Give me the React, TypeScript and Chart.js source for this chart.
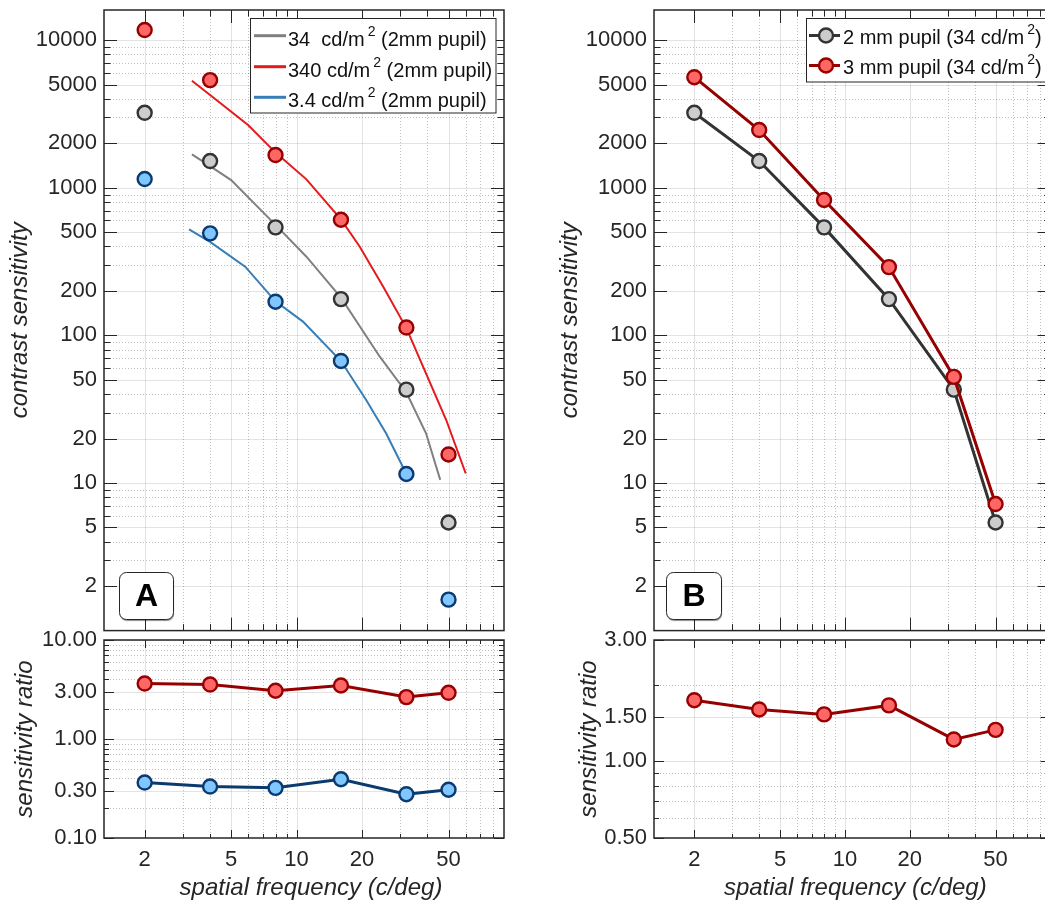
import React, { useEffect, useRef } from 'react';
import { Chart, registerables } from 'chart.js';

Chart.register(...registerables);
Chart.defaults.font.family = "'Liberation Sans', Arial, Helvetica, sans-serif";

// ---------------- data ----------------
const FREQ = [2, 4, 8, 16, 32, 50];
const CS_34 = [3220, 1517, 539, 176, 42.9, 5.4];
const CS_340 = [11700, 5360, 1665, 607, 113, 15.6];
const CS_3_4 = [1145, 491, 169, 67.1, 11.5, 1.62];
const CS_3MM = [5610, 2460, 826, 290, 52.3, 7.2];
const RATIO_340 = [3.63, 3.55, 3.07, 3.47, 2.65, 2.93];
const RATIO_3_4 = [0.363, 0.331, 0.321, 0.392, 0.277, 0.307];
const RATIO_PUPIL = [1.74, 1.6, 1.53, 1.66, 1.22, 1.33];

const FIT_34_F = [3.3, 4, 5, 8, 11.1, 16, 24.1, 32, 39.4, 45.8];
const FIT_34_CS = [1683, 1400, 1127, 560, 341, 180, 72, 41, 21.7, 10.5];
const FIT_340_F = [3.3, 4, 6, 8, 11.1, 16, 19.5, 25, 32, 48.8, 60];
const FIT_340_CS = [5300, 4250, 2650, 1730, 1140, 610, 400, 214, 112, 26.7, 11.6];
const FIT_3_4_F = [3.2, 4, 5.8, 8, 10.7, 16, 20.9, 25.8, 32];
const FIT_3_4_CS = [522, 430, 292, 170, 124, 67, 36.5, 21.7, 11.5];

const X_MAJOR = [2, 5, 10, 20, 50];
const X_MINOR = [3, 4, 6, 7, 8, 9, 30, 40, 60, 70, 80];
const CS_MAJOR = [2, 5, 10, 20, 50, 100, 200, 500, 1000, 2000, 5000, 10000];
const CS_MINOR = [3, 4, 6, 7, 8, 9, 30, 40, 60, 70, 80, 90, 300, 400, 600, 700, 800, 900, 3000, 4000, 6000, 7000, 8000, 9000];
const RA_MAJOR = [0.1, 0.3, 1, 3, 10];
const RA_MINOR = [0.2, 0.4, 0.5, 0.6, 0.7, 0.8, 0.9, 2, 4, 5, 6, 7, 8, 9];
const RB_MAJOR = [0.5, 1, 1.5, 3];
const RB_MINOR = [0.6, 0.7, 0.8, 0.9, 2];

const LEGEND_A = [
  { text: '34  cd/m', sup: '2', tail: ' (2mm pupil)' },
  { text: '340 cd/m', sup: '2', tail: ' (2mm pupil)' },
  { text: '3.4 cd/m', sup: '2', tail: ' (2mm pupil)' },
];
const LEGEND_B = [
  { text: '2 mm pupil (34 cd/m', sup: '2', tail: ')' },
  { text: '3 mm pupil (34 cd/m', sup: '2', tail: ')' },
];
const X_TITLE = 'spatial frequency (c/deg)';
const Y_TITLE_CS = 'contrast sensitivity';
const Y_TITLE_RATIO = 'sensitivity ratio';

// ---------------- styles ----------------
const INK = '#262626';
const RED_FILL = '#ff6666';
const RED_EDGE = '#960000';
const GRAY_FILL = '#cccccc';
const GRAY_EDGE = '#333333';
const BLUE_FILL = '#80c6ff';
const BLUE_EDGE = '#0b3a6f';
const FIT_GRAY = '#808080';
const FIT_RED = '#e41a1c';
const FIT_BLUE = '#377eb8';
const TICK_FONT = 22;
const TITLE_FONT = 24;

const pts = (xs: number[], ys: number[]) => xs.map((x, i) => ({ x, y: ys[i] }));

function markers(label: string, ys: number[], fill: string, edge: string, line: string | null, lw = 3) {
  return {
    label,
    data: pts(FREQ, ys),
    showLine: !!line,
    borderColor: line || edge,
    borderWidth: lw,
    pointRadius: 7,
    pointBorderWidth: 2.4,
    pointBackgroundColor: fill,
    pointBorderColor: edge,
    tension: 0,
  };
}

function fit(label: string, xs: number[], ys: number[], color: string) {
  return {
    label,
    data: pts(xs, ys),
    showLine: true,
    borderColor: color,
    borderWidth: 2,
    pointRadius: 0,
    tension: 0,
  };
}

type Row = { text: string; sup: string; tail: string; y: number; color: string; fill?: string };
type Decor = {
  xMajor: number[]; xMinor: number[]; yMajor: number[]; yMinor: number[];
  xTick: [number, number]; yTick: [number, number];
  xTitle?: { text: string; dx: number; y: number };
  legend?: { box: [number, number, number, number]; rows: Row[]; lineX: [number, number]; markerX?: number; textX: number; baseOff: number };
  label?: { text: string; box: [number, number, number, number] };
};

function decorPlugin(d: Decor) {
  return {
    id: 'decor',
    beforeDatasetsDraw(chart: any) {
      const { ctx, chartArea: a, scales } = chart;
      const xs = scales.x, ys = scales.y;
      ctx.save();
      ctx.beginPath();
      ctx.rect(a.left, a.top, a.right - a.left, a.bottom - a.top);
      ctx.clip();
      ctx.lineWidth = 1;
      ctx.strokeStyle = 'rgba(0,0,0,0.25)';
      ctx.setLineDash([1, 2]);
      ctx.beginPath();
      for (const v of d.xMinor) { const p = Math.round(xs.getPixelForValue(v)) + 0.5; ctx.moveTo(p, a.top); ctx.lineTo(p, a.bottom); }
      for (const v of d.yMinor) { const p = Math.round(ys.getPixelForValue(v)) + 0.5; ctx.moveTo(a.left, p); ctx.lineTo(a.right, p); }
      ctx.stroke();
      ctx.setLineDash([]);
      ctx.strokeStyle = 'rgba(0,0,0,0.11)';
      ctx.beginPath();
      for (const v of d.xMajor) { const p = Math.round(xs.getPixelForValue(v)) + 0.5; ctx.moveTo(p, a.top); ctx.lineTo(p, a.bottom); }
      for (const v of d.yMajor) { const p = Math.round(ys.getPixelForValue(v)) + 0.5; ctx.moveTo(a.left, p); ctx.lineTo(a.right, p); }
      ctx.stroke();
      ctx.restore();
    },
    afterDraw(chart: any) {
      const { ctx, chartArea: a, scales } = chart;
      const xs = scales.x, ys = scales.y;
      ctx.save();
      // ticks
      ctx.strokeStyle = INK;
      ctx.lineWidth = 1;
      ctx.beginPath();
      const xt = (vals: number[], len: number) => {
        for (const v of vals) {
          const p = Math.round(xs.getPixelForValue(v)) + 0.5;
          ctx.moveTo(p, a.bottom); ctx.lineTo(p, a.bottom - len);
          ctx.moveTo(p, a.top); ctx.lineTo(p, a.top + len);
        }
      };
      const yt = (vals: number[], len: number) => {
        for (const v of vals) {
          const p = Math.round(ys.getPixelForValue(v)) + 0.5;
          ctx.moveTo(a.left, p); ctx.lineTo(a.left + len, p);
          ctx.moveTo(a.right, p); ctx.lineTo(a.right - len, p);
        }
      };
      xt(d.xMajor, d.xTick[0]); xt(d.xMinor, d.xTick[1]);
      yt(d.yMajor, d.yTick[0]); yt(d.yMinor, d.yTick[1]);
      ctx.stroke();
      // frame
      ctx.lineWidth = 1.5;
      ctx.strokeRect(a.left, a.top, a.right - a.left, a.bottom - a.top);

      // x title
      if (d.xTitle) {
        ctx.fillStyle = INK;
        ctx.font = `italic ${TITLE_FONT}px 'Liberation Sans', Arial, sans-serif`;
        ctx.textAlign = 'center';
        ctx.textBaseline = 'middle';
        ctx.fillText(d.xTitle.text, (a.left + a.right) / 2 + d.xTitle.dx, d.xTitle.y);
      }

      // legend
      if (d.legend) {
        const L = d.legend;
        const [bx, by, bw, bh] = L.box;
        ctx.fillStyle = '#ffffff';
        ctx.fillRect(bx, by, bw, bh);
        ctx.strokeStyle = INK;
        ctx.lineWidth = 1;
        ctx.strokeRect(bx, by, bw, bh);
        for (const r of L.rows) {
          ctx.strokeStyle = r.color;
          ctx.lineWidth = 3;
          ctx.beginPath();
          ctx.moveTo(L.lineX[0], r.y);
          ctx.lineTo(L.lineX[1], r.y);
          ctx.stroke();
          if (L.markerX !== undefined && r.fill) {
            ctx.beginPath();
            ctx.arc(L.markerX, r.y, 7, 0, Math.PI * 2);
            ctx.fillStyle = r.fill;
            ctx.fill();
            ctx.lineWidth = 2.4;
            ctx.strokeStyle = r.color;
            ctx.stroke();
          }
          ctx.fillStyle = '#111111';
          ctx.textAlign = 'left';
          ctx.textBaseline = 'alphabetic';
          const base = r.y + L.baseOff;
          ctx.font = "20px 'Liberation Sans', Arial, sans-serif";
          let x = L.textX;
          ctx.fillText(r.text, x, base);
          x += ctx.measureText(r.text).width + 3;
          ctx.font = "14px 'Liberation Sans', Arial, sans-serif";
          ctx.fillText(r.sup, x, base - 10);
          x += ctx.measureText(r.sup).width;
          ctx.font = "20px 'Liberation Sans', Arial, sans-serif";
          ctx.fillText(r.tail, x, base);
        }
      }
      // panel label
      if (d.label) {
        const [bx, by, bw, bh] = d.label.box;
        const rr = 7;
        const path = () => {
          ctx.beginPath();
          ctx.moveTo(bx + rr, by);
          ctx.arcTo(bx + bw, by, bx + bw, by + bh, rr);
          ctx.arcTo(bx + bw, by + bh, bx, by + bh, rr);
          ctx.arcTo(bx, by + bh, bx, by, rr);
          ctx.arcTo(bx, by, bx + bw, by, rr);
          ctx.closePath();
        };
        ctx.save();
        ctx.shadowColor = 'rgba(0,0,0,0.45)';
        ctx.shadowOffsetY = 1.5;
        ctx.shadowOffsetX = 0.5;
        ctx.shadowBlur = 1;
        path();
        ctx.fillStyle = '#ffffff';
        ctx.fill();
        ctx.restore();
        path();
        ctx.lineWidth = 1;
        ctx.strokeStyle = INK;
        ctx.stroke();
        ctx.fillStyle = '#000000';
        ctx.font = "bold 32px 'Liberation Sans', Arial, sans-serif";
        ctx.textAlign = 'center';
        ctx.textBaseline = 'middle';
        ctx.fillText(d.label.text, bx + bw / 2, by + bh / 2 + 1);
      }
      ctx.restore();
    },
  };
}

type PanelSpec = {
  datasets: any[];
  yMin: number; yMax: number; yTicks: number[]; yDigits: number;
  showX: boolean; yTitle: string; yTitlePad: number; yWidth: number; xHeight: number;
  padding: { top: number; bottom: number; left: number; right: number };
  decor: Decor;
};

const zeroPad = (s: any) => {
  s.paddingTop = 0;
  s.paddingBottom = 0;
  s.paddingLeft = 0;
  s.paddingRight = 0;
};

function buildConfig(p: PanelSpec): any {
  return {
    type: 'line',
    data: { datasets: p.datasets },
    plugins: [decorPlugin(p.decor)],
    options: {
      animation: false,
      responsive: false,
      events: [],
      layout: { padding: p.padding },
      plugins: { legend: { display: false }, tooltip: { enabled: false } },
      scales: {
        x: {
          type: 'logarithmic',
          min: 1.3,
          max: 90,
          display: p.showX,
          afterBuildTicks: (s: any) => { s.ticks = X_MAJOR.map((v) => ({ value: v })); },
          afterFit: (s: any) => { s.height = p.xHeight; zeroPad(s); },
          grid: { display: false, drawTicks: false },
          border: { display: false },
          ticks: {
            autoSkip: false, maxRotation: 0, minRotation: 0, padding: 9, color: INK,
            font: { size: TICK_FONT },
            callback: (v: any) => String(v),
          },
          title: { display: false },
        },
        y: {
          type: 'logarithmic',
          min: p.yMin,
          max: p.yMax,
          afterBuildTicks: (s: any) => { s.ticks = p.yTicks.map((v) => ({ value: v })); },
          afterFit: (s: any) => { s.width = p.yWidth; zeroPad(s); },
          grid: { display: false, drawTicks: false },
          border: { display: false },
          ticks: {
            autoSkip: false, padding: 7, color: INK, font: { size: TICK_FONT },
            callback: (v: any) => (p.yDigits ? Number(v).toFixed(p.yDigits) : String(v)),
          },
          title: {
            display: true, text: p.yTitle, color: INK,
            font: { size: TITLE_FONT, style: 'italic' }, padding: { top: p.yTitlePad, bottom: 0 },
          },
        },
      },
    },
  };
}

function Panel({ left, top, width, height, spec }: { left: number; top: number; width: number; height: number; spec: PanelSpec }) {
  const ref = useRef<HTMLCanvasElement>(null);
  useEffect(() => {
    const chart = new Chart(ref.current as HTMLCanvasElement, buildConfig(spec));
    return () => chart.destroy();
  }, []);
  return (
    <div style={{ position: 'absolute', left, top, width, height }}>
      <canvas ref={ref} width={width} height={height} style={{ width, height, display: 'block' }} />
    </div>
  );
}

const specATop: PanelSpec = {
  datasets: [
    markers('340 cd/m² data', CS_340, RED_FILL, RED_EDGE, null),
    markers('34 cd/m² data', CS_34, GRAY_FILL, GRAY_EDGE, null),
    markers('3.4 cd/m² data', CS_3_4, BLUE_FILL, BLUE_EDGE, null),
    fit('34 cd/m² (2mm pupil)', FIT_34_F, FIT_34_CS, FIT_GRAY),
    fit('340 cd/m² (2mm pupil)', FIT_340_F, FIT_340_CS, FIT_RED),
    fit('3.4 cd/m² (2mm pupil)', FIT_3_4_F, FIT_3_4_CS, FIT_BLUE),
  ],
  yMin: 1, yMax: 16000, yTicks: CS_MAJOR, yDigits: 0,
  showX: false, yTitle: Y_TITLE_CS, yTitlePad: 6.1, yWidth: 104, xHeight: 0,
  padding: { top: 10, bottom: 9, left: 0, right: 16 },
  decor: {
    xMajor: X_MAJOR, xMinor: X_MINOR, yMajor: CS_MAJOR, yMinor: CS_MINOR,
    xTick: [13, 6.5], yTick: [13, 6.5],
    legend: {
      box: [250.5, 18.5, 245.5, 94.5],
      rows: [
        { ...LEGEND_A[0], y: 35.7, color: FIT_GRAY },
        { ...LEGEND_A[1], y: 66.7, color: FIT_RED },
        { ...LEGEND_A[2], y: 97.3, color: FIT_BLUE },
      ],
      lineX: [254, 286], textX: 288, baseOff: 10,
    },
    label: { text: 'A', box: [119.5, 572.5, 54, 47] },
  },
};

const specABottom: PanelSpec = {
  datasets: [
    markers('340 / 34 cd/m²', RATIO_340, RED_FILL, RED_EDGE, RED_EDGE),
    markers('3.4 / 34 cd/m²', RATIO_3_4, BLUE_FILL, BLUE_EDGE, BLUE_EDGE),
  ],
  yMin: 0.1, yMax: 10, yTicks: RA_MAJOR, yDigits: 2,
  showX: true, yTitle: Y_TITLE_RATIO, yTitlePad: 10.6, yWidth: 104, xHeight: 65,
  padding: { top: 20, bottom: 0, left: 0, right: 16 },
  decor: {
    xMajor: X_MAJOR, xMinor: X_MINOR, yMajor: RA_MAJOR, yMinor: RA_MINOR,
    xTick: [8, 4], yTick: [10, 5],
    xTitle: { text: X_TITLE, dx: 7, y: 268 },
  },
};

const specBTop: PanelSpec = {
  datasets: [
    markers('3 mm pupil (34 cd/m²)', CS_3MM, RED_FILL, RED_EDGE, RED_EDGE),
    markers('2 mm pupil (34 cd/m²)', CS_34, GRAY_FILL, GRAY_EDGE, GRAY_EDGE),
  ],
  yMin: 1, yMax: 16000, yTicks: CS_MAJOR, yDigits: 0,
  showX: false, yTitle: Y_TITLE_CS, yTitlePad: 15.6, yWidth: 114, xHeight: 0,
  padding: { top: 10, bottom: 9, left: 0, right: 6 },
  decor: {
    xMajor: X_MAJOR, xMinor: X_MINOR, yMajor: CS_MAJOR, yMinor: CS_MINOR,
    xTick: [13, 6.5], yTick: [13, 6.5],
    legend: {
      box: [266.5, 18.5, 280, 63.5],
      rows: [
        { ...LEGEND_B[0], y: 35.5, color: GRAY_EDGE, fill: GRAY_FILL },
        { ...LEGEND_B[1], y: 65.5, color: RED_EDGE, fill: RED_FILL },
      ],
      lineX: [269, 300], markerX: 286, textX: 303, baseOff: 8,
    },
    label: { text: 'B', box: [126.5, 572.5, 55, 47] },
  },
};

const specBBottom: PanelSpec = {
  datasets: [markers('3 mm / 2 mm pupil', RATIO_PUPIL, RED_FILL, RED_EDGE, RED_EDGE)],
  yMin: 0.5, yMax: 3, yTicks: RB_MAJOR, yDigits: 2,
  showX: true, yTitle: Y_TITLE_RATIO, yTitlePad: 34.6, yWidth: 114, xHeight: 65,
  padding: { top: 20, bottom: 0, left: 0, right: 6 },
  decor: {
    xMajor: X_MAJOR, xMinor: X_MINOR, yMajor: RB_MAJOR, yMinor: RB_MINOR,
    xTick: [8, 4], yTick: [10, 5],
    xTitle: { text: X_TITLE, dx: 3, y: 268 },
  },
};

export default function App() {
  return (
    <div style={{ position: 'fixed', left: 0, top: 0, width: 1045, height: 903, overflow: 'hidden', background: '#ffffff' }}>
      <Panel left={0} top={0} width={520} height={640} spec={specATop} />
      <Panel left={0} top={620} width={520} height={283} spec={specABottom} />
      <Panel left={540} top={0} width={520} height={640} spec={specBTop} />
      <Panel left={540} top={620} width={520} height={283} spec={specBBottom} />
    </div>
  );
}
